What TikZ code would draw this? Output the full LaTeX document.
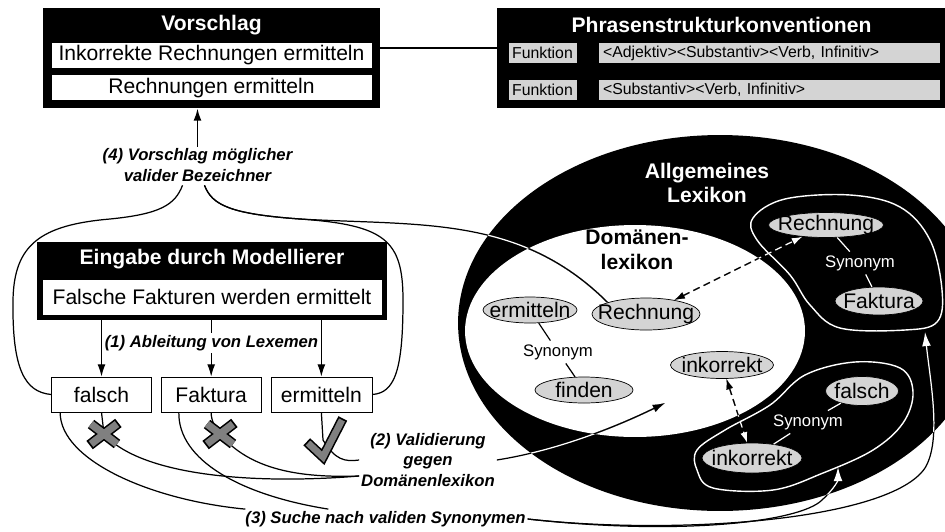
\documentclass[tikz,border=0pt]{standalone}
\usepackage{fontspec}
\setmainfont{Liberation Sans}
\usetikzlibrary{shapes.geometric, arrows.meta, positioning, calc}
\tikzstyle{kasten} = [rectangle, 
			fill=black, 
			inner sep=0pt]
\tikzstyle{titel} = [text=white, 
			align=center, 
			font=\fontsize{12}{14}\selectfont\bfseries]
\tikzstyle{zeile} = [rectangle, 
			draw, 
			fill=white, 
			inner sep=0pt, 
			font=\fontsize{12}{14}\selectfont]
\tikzstyle{feld} = [rectangle, 
			draw, 
			fill=black!17, 
			inner sep=0pt, 
			minimum height=0.42cm, 
			font=\fontsize{9}{11}\selectfont]
\tikzstyle{lexem} = [rectangle, 
			draw, 
			fill=white, 
			minimum width=2cm, 
			minimum height=0.7cm, 
			inner sep=0pt, 
			font=\fontsize{12}{14}\selectfont]
\tikzstyle{wort} = [ellipse, draw, fill=black!17, inner sep=-30pt, font=\fontsize{12}{14}\selectfont]
\tikzstyle{schritt} = [align=center, inner sep=1pt, font=\fontsize{9.5}{11.5}\selectfont\bfseries\itshape]
\tikzstyle{syn} = [inner sep=2pt, font=\fontsize{9.5}{11}\selectfont]
\tikzstyle{line} = [draw, line width=0.7pt]
\tikzstyle{pfeil} = [draw, line width=0.7pt, -{Latex[length=7pt, width=4.5pt]}]
\tikzstyle{dpfeil} = [draw, line width=0.7pt, dash pattern=on 4pt off 2.5pt, {Latex[length=6pt, width=4pt]}-{Latex[length=6pt, width=4pt]}]
\tikzstyle{hpfeil} = [draw, line width=0.7pt, -{Latex[length=8pt, width=5pt, fill=white]}]
\tikzset{kreuz/.pic={
		\draw [line width=6pt, shorten <=-1pt, shorten >=-1pt] (-13,-10) -- (13,10) (13,-10) -- (-13,10);
		\draw [line width=4.2pt, gray] (-13,-10) -- (13,10) (13,-10) -- (-13,10);},
	haken/.pic={
		\draw [line width=5.6pt, shorten <=-1pt, shorten >=-1pt] (-15,3) -- (0,17) -- (19,-20);
		\draw [line width=3.8pt, gray] (-15,3) -- (0,17) -- (19,-20);}}
% Linie im schwarzen Ring weiss nachziehen
\newcommand{\ringweg}[2]{%
	\draw [#1] #2;
	\begin{scope}
		\clip (allgemein.center) ellipse [x radius=5.24cm, y radius=3.76cm];
		\draw [#1, white] #2;
	\end{scope}
	\begin{scope}
		\clip (domaene.center) ellipse [x radius=3.4cm, y radius=2.12cm];
		\draw [#1] #2;
	\end{scope}}

\begin{document}
\begin{tikzpicture}[x=0.02cm, y=-0.02cm]
	\useasboundingbox (0,0) rectangle (945,531);

	\node [kasten, minimum width=6.74cm, minimum height=2cm] (vorschlag) at (211.5,58) {};
	\node [titel] (vorschlagT) at (211.5,25) {Vorschlag};
	\node [zeile, minimum width=6.42cm, minimum height=0.52cm] (zeileA) at (211.5,55) {Inkorrekte Rechnungen ermitteln};
	\node [zeile, minimum width=6.42cm, minimum height=0.52cm, below=0.12cm of zeileA] (zeileB) {Rechnungen ermitteln};

	\node [kasten, minimum width=8.98cm, minimum height=2cm] (phrasen) at (721.5,58) {};
	\node [titel] (phrasenT) at (721.5,25) {Phrasenstrukturkonventionen};
	\node [feld, minimum width=1.38cm] (funkA) at (542.5,53) {Funktion};
	\node [feld, text width=6.64cm, inner xsep=0.1cm, align=left] (regelA) at (769,53) {<Adjektiv><Substantiv><Verb, Infinitiv>};
	\node [feld, minimum width=1.38cm] (funkB) at (542.5,90) {Funktion};
	\node [feld, text width=6.64cm, inner xsep=0.1cm, align=left] (regelB) at (769,90) {<Substantiv><Verb, Infinitiv>};
	\coordinate (verbindung) at (440,48);
	\draw [line, line width=1pt] (vorschlag.east |- verbindung) -- (phrasen.west |- verbindung);

	\node [kasten, minimum width=7cm, minimum height=1.56cm] (eingabe) at (212,281) {};
	\node [titel] (eingabeT) at (212,259) {Eingabe durch Modellierer};
	\node [zeile, minimum width=6.8cm, minimum height=0.72cm] (satz) at (212,297) {Falsche Fakturen werden ermittelt};

	\node [lexem] (falsch) at (101.5,394.5) {falsch};
	\node [lexem, right=0.18cm of falsch] (faktura) {Faktura};
	\node [lexem, right=0.18cm of faktura, minimum width=2.02cm] (ermitteln) {ermitteln};
	\path [pfeil] (falsch |- eingabe.south) -- (falsch);
	\path [pfeil] (faktura |- eingabe.south) -- (faktura);
	\path [pfeil] (ermitteln |- eingabe.south) -- (ermitteln);
	\node [schritt, fill=white] (schritt1) at (211.5,343) {(1) Ableitung von Lexemen};

	\node [schritt] (schritt4) at (197.5,165) {(4) Vorschlag möglicher\\valider Bezeichner};
	\path [pfeil, line width=1pt] (schritt4.north) -- (schritt4.north |- vorschlag.south);
	\path [line] ($(schritt4.south)+(-15,2)$) .. controls (175,205) and (160,214) .. (110,219) .. controls (40,225) and (14,245) .. (13,300) .. controls (12,370) and (25,392) .. (falsch.west);
	\path [line] ($(schritt4.south)+(7,2)$) .. controls (212,205) and (230,214) .. (300,219) .. controls (385,225) and (403,240) .. (403,300) .. controls (403,370) and (395,393) .. (ermitteln.east);

	\node [ellipse, fill=black, minimum width=10.48cm, minimum height=7.52cm, inner sep=0pt] (allgemein) at (720,323) {};
	\node [ellipse, fill=white, minimum width=6.8cm, minimum height=4.24cm, inner sep=0pt] (domaene) at (635,331) {};
	\node [titel] (allgemeinT) at (707,183) {Allgemeines\\Lexikon};
	\node [titel, text=black] (domaeneT) at (637,250) {Domänen-\\lexikon};

	\node [wort, minimum width=1.88cm, minimum height=0.52cm] (ermittelnD) at (530,310) {ermitteln};
	\node [wort, minimum width=2.16cm, minimum height=0.64cm] (rechnungD) at (646,314) {Rechnung};
	\node [syn] (synD) at (558,352) {Synonym};
	\node [wort, minimum width=1.96cm, minimum height=0.52cm] (findenD) at (584,390) {finden};
	\node [wort, minimum width=2.06cm, minimum height=0.54cm] (inkorrektD) at (722,365) {inkorrekt};
	\path [line] (ermittelnD) -- (synD);
	\path [line] (synD) -- (findenD);

	\draw [white, line width=0.8pt] plot [smooth cycle, tension=0.6] coordinates {(753,218) (785,199) (850,195) (900,207) (930,240) (942,290) (937,322) (905,330) (840,328) (810,305) (790,275) (757,240)};
	\draw [white, line width=0.8pt] plot [smooth cycle, tension=0.6] coordinates {(697,450) (725,430) (770,405) (805,375) (855,362) (900,368) (913,392) (903,423) (873,450) (823,473) (773,490) (713,488) (697,470)};
	\node [wort, minimum width=2.3cm, minimum height=0.5cm] (rechnungA) at (826,225) {Rechnung};
	\node [syn, text=white] (synA) at (860,263) {Synonym};
	\node [wort, minimum width=1.76cm, minimum height=0.56cm] (fakturaA) at (879,301) {Faktura};
	\node [wort, minimum width=1.46cm, minimum height=0.58cm] (falschA) at (862,391) {falsch};
	\node [syn, text=white] (synB) at (808,422) {Synonym};
	\node [wort, minimum width=2cm, minimum height=0.6cm] (inkorrektA) at (752,458) {inkorrekt};
	\path [line, white] (rechnungA) -- (synA);
	\path [line, white] (synA) -- (fakturaA);
	\path [line, white] (falschA) -- (synB);
	\path [line, white] (synB) -- (inkorrektA);

	\ringweg{dpfeil}{(rechnungD) -- (rechnungA)}
	\ringweg{dpfeil}{(inkorrektD) -- (inkorrektA)}
	\ringweg{line}{($(schritt4.south)+(7,2)$) .. controls (212,205) and (230,214) .. (300,219) .. controls (420,226) and (520,215) .. (rechnungD.north west)}

	\node [schritt] (schritt2) at (428,460) {(2) Validierung\\gegen\\Domänenlexikon};
	\node [schritt] (schritt3) at (385.5,519) {(3) Suche nach validen Synonymen};
	\coordinate (ziel2) at (665,403);
	\coordinate (gruppe1) at (925,332);
	\coordinate (gruppe2) at (838,467);
	\ringweg{pfeil}{(schritt2.east) .. controls (560,450) and (620,425) .. (ziel2)}
	\ringweg{hpfeil}{(schritt3.east) .. controls (680,536) and (800,522) .. (822,500) .. controls (835,488) and (838,480) .. (gruppe2)}
	\ringweg{hpfeil}{(schritt3.east) .. controls (680,536) and (890,520) .. (925,468) .. controls (942,440) and (930,380) .. (gruppe1)}

	\coordinate (xa) at (104,434);
	\coordinate (xb) at (220,434);
	\coordinate (ok) at (323,440);
	\path [line] (falsch.south) -- (xa);
	\path [line] (faktura.south) .. controls (211,420) and (215,428) .. (xb);
	\path [line] (ermitteln.south) -- (ok);
	\path [line] ($(falsch.south west)+(9,0)$) .. controls (60,460) and (150,500) .. ($(schritt3.north west)+(2,0)$);
	\path [line] ($(faktura.south west)+(18,0)$) .. controls (178,460) and (240,495) .. ($(schritt3.north west)+(85,0)$);
	\path [line] (xa) .. controls (140,475) and (250,485) .. ($(schritt2.west)+(0,16)$);
	\path [line] (xb) .. controls (250,470) and (300,478) .. ($(schritt2.west)+(0,16)$);
	\path [line] (ok) .. controls (335,460) and (345,462) .. (schritt2.west);
	\pic at (xa) {kreuz};
	\pic at (xb) {kreuz};
	\pic at (ok) {haken};
\end{tikzpicture}
\end{document}
